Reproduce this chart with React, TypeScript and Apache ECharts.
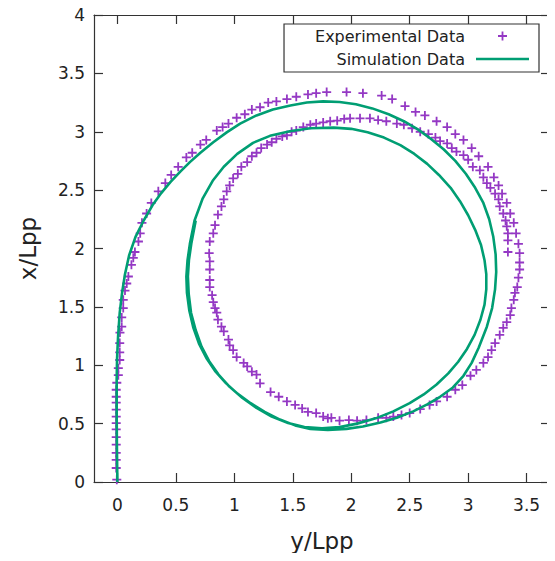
import React, { useEffect, useRef } from "react";
import * as echarts from "echarts";

// ---- data (horizontal = y/Lpp, vertical = x/Lpp) ----
const xTicks = [0, 0.5, 1, 1.5, 2, 2.5, 3, 3.5];

const expStart = [
  [-0.005, 0.02], [-0.01, 0.12], [-0.01, 0.19], [-0.01, 0.25], [-0.01, 0.32], [-0.01, 0.385],
  [-0.01, 0.45], [-0.01, 0.505], [-0.01, 0.56], [-0.01, 0.62], [-0.01, 0.68], [-0.01, 0.73],
  [-0.01, 0.79], [-0.005, 0.85], [0.008, 0.915], [0.008, 0.975], [0.02, 1.045], [0.02, 1.11],
  [0.02, 1.19], [0.022, 1.28], [0.037, 1.33], [0.037, 1.41], [0.05, 1.49], [0.05, 1.56],
  [0.065, 1.64], [0.08, 1.7], [0.094, 1.76], [0.12, 1.86], [0.136, 1.92], [0.15, 1.97],
  [0.18, 2.06], [0.195, 2.13],
];
const expOuterTop = [
  [0.21, 2.22], [0.25, 2.3], [0.29, 2.39], [0.35, 2.49], [0.41, 2.56], [0.46, 2.63],
  [0.52, 2.7], [0.59, 2.78], [0.64, 2.82], [0.71, 2.89], [0.76, 2.93], [0.85, 3.01],
  [0.9, 3.04], [0.95, 3.07], [1.02, 3.12], [1.09, 3.15], [1.15, 3.19], [1.22, 3.21],
  [1.29, 3.25], [1.36, 3.26], [1.45, 3.28], [1.53, 3.3], [1.63, 3.32], [1.7, 3.33],
  [1.79, 3.34], [1.96, 3.34], [2.1, 3.33], [2.26, 3.31], [2.35, 3.28], [2.46, 3.22],
  [2.55, 3.17], [2.63, 3.14], [2.73, 3.09], [2.82, 3.04], [2.89, 2.98], [2.96, 2.93],
  [3.03, 2.86], [3.09, 2.79], [3.17, 2.7], [3.22, 2.61], [3.26, 2.54], [3.29, 2.47],
  [3.33, 2.39], [3.36, 2.3], [3.39, 2.22], [3.41, 2.13], [3.43, 2.04], [3.44, 1.96],
];
const expOuterBottom = [
  [3.44, 1.88], [3.44, 1.82], [3.43, 1.75], [3.42, 1.67], [3.4, 1.62], [3.39, 1.56],
  [3.37, 1.49], [3.36, 1.43], [3.33, 1.37], [3.3, 1.32], [3.27, 1.26], [3.23, 1.19],
  [3.2, 1.13], [3.17, 1.07], [3.13, 1.02], [3.07, 0.96], [3.02, 0.91], [2.95, 0.83],
  [2.89, 0.79], [2.82, 0.73], [2.73, 0.69], [2.67, 0.66], [2.59, 0.625], [2.5, 0.59],
  [2.43, 0.574], [2.36, 0.56], [2.3, 0.55], [2.23, 0.55], [2.13, 0.53], [2.05, 0.525],
  [1.98, 0.53], [1.9, 0.525], [1.83, 0.55], [1.8, 0.545], [1.76, 0.56], [1.7, 0.59],
  [1.63, 0.6], [1.58, 0.63], [1.52, 0.66], [1.45, 0.69], [1.38, 0.73], [1.31, 0.77],
  [1.22, 0.845], [1.19, 0.92], [1.15, 0.945], [1.11, 0.99], [1.08, 1.02], [1.02, 1.07],
  [0.99, 1.13], [0.96, 1.17], [0.95, 1.22], [0.91, 1.29], [0.89, 1.33], [0.86, 1.39],
  [0.85, 1.45], [0.835, 1.49], [0.82, 1.54], [0.81, 1.6], [0.79, 1.67], [0.79, 1.73],
  [0.79, 1.82], [0.79, 1.89], [0.785, 1.96],
];
const expInner = [
  [0.79, 2.06], [0.82, 2.13], [0.835, 2.2], [0.86, 2.29], [0.89, 2.36], [0.91, 2.42],
  [0.935, 2.49], [0.96, 2.54], [0.99, 2.6], [1.03, 2.64], [1.06, 2.7], [1.11, 2.74],
  [1.15, 2.79], [1.19, 2.82], [1.23, 2.86], [1.28, 2.89], [1.32, 2.91], [1.36, 2.94],
  [1.41, 2.96], [1.45, 2.97], [1.49, 3.0], [1.53, 3.01], [1.59, 3.04], [1.65, 3.06],
  [1.7, 3.07], [1.76, 3.08], [1.82, 3.09], [1.88, 3.095], [1.94, 3.11], [1.99, 3.115],
  [2.075, 3.115], [2.16, 3.115], [2.23, 3.1], [2.3, 3.09], [2.39, 3.07], [2.45, 3.06],
  [2.52, 3.03], [2.59, 3.0], [2.66, 2.98], [2.72, 2.95], [2.76, 2.92], [2.82, 2.9],
  [2.86, 2.86], [2.9, 2.83], [2.96, 2.8], [3.0, 2.76], [3.04, 2.7], [3.1, 2.67],
  [3.13, 2.61], [3.16, 2.56], [3.19, 2.52], [3.23, 2.47], [3.26, 2.42], [3.27, 2.36],
  [3.3, 2.3], [3.32, 2.24], [3.33, 2.19], [3.34, 2.13], [3.34, 2.07], [3.34, 1.97],
];

const simStart = [
  [0, 0], [-0.004, 0.3], [-0.006, 0.6], [-0.006, 0.87], [-0.003, 1.05], [0.006, 1.25],
  [0.02, 1.45], [0.04, 1.62], [0.065, 1.78], [0.1, 1.94], [0.155, 2.1], [0.225, 2.24],
  [0.3, 2.37], [0.375, 2.475], [0.455, 2.57], [0.54, 2.66], [0.62, 2.74], [0.71, 2.82],
  [0.82, 2.91], [0.935, 2.995],
];
const simFirstLoop = [
  [1.05, 3.07], [1.19, 3.14], [1.33, 3.19], [1.48, 3.225], [1.62, 3.25], [1.76, 3.26],
  [1.9, 3.255], [2.04, 3.235], [2.18, 3.2], [2.32, 3.15], [2.45, 3.09], [2.57, 3.02],
  [2.68, 2.94], [2.79, 2.85], [2.89, 2.75], [2.98, 2.64], [3.06, 2.52], [3.13, 2.39],
  [3.18, 2.25], [3.215, 2.1], [3.235, 1.95], [3.24, 1.8], [3.23, 1.65], [3.205, 1.49],
  [3.16, 1.33], [3.09, 1.15], [3.03, 1.02], [2.96, 0.91], [2.87, 0.81], [2.76, 0.73],
  [2.65, 0.665], [2.53, 0.605], [2.39, 0.55], [2.25, 0.51], [2.1, 0.475], [1.96, 0.455],
  [1.8, 0.445], [1.65, 0.455], [1.52, 0.485], [1.39, 0.535], [1.26, 0.6], [1.14, 0.675],
  [1.03, 0.755], [0.93, 0.845], [0.84, 0.945], [0.765, 1.055], [0.7, 1.18], [0.65, 1.32],
  [0.615, 1.47], [0.595, 1.62], [0.59, 1.76], [0.6, 1.9], [0.62, 2.04], [0.66, 2.24],
];
const simSecondLoop = [
  [0.73, 2.43], [0.815, 2.58], [0.91, 2.7], [1.025, 2.81], [1.16, 2.905], [1.305, 2.965],
  [1.475, 3.005], [1.65, 3.03], [1.85, 3.035], [2.0, 3.025], [2.14, 2.995], [2.28, 2.95],
  [2.42, 2.885], [2.54, 2.81], [2.65, 2.725], [2.75, 2.63], [2.85, 2.52], [2.93, 2.405],
  [3.0, 2.285], [3.06, 2.16], [3.11, 2.03], [3.14, 1.9], [3.155, 1.78], [3.155, 1.65],
  [3.14, 1.52], [3.105, 1.39], [3.055, 1.26], [2.99, 1.14], [2.915, 1.03], [2.83, 0.93],
  [2.73, 0.835], [2.62, 0.75], [2.5, 0.675], [2.36, 0.605], [2.21, 0.545], [2.05, 0.5],
  [1.9, 0.47], [1.75, 0.46], [1.6, 0.47], [1.46, 0.505], [1.32, 0.56], [1.19, 0.635],
  [1.07, 0.72], [0.96, 0.815], [0.865, 0.92], [0.785, 1.035], [0.72, 1.16], [0.67, 1.3],
  [0.63, 1.45], [0.61, 1.61], [0.603, 1.76], [0.612, 1.9], [0.632, 2.04], [0.67, 2.24],
];

const experimental = [...expStart, ...expOuterTop, ...expOuterBottom, ...expInner];
const simulation = [...simStart, ...simFirstLoop, ...simSecondLoop];

const FONT = "'DejaVu Sans', Verdana, sans-serif";
const PURPLE = "#9438c4";
const GREEN = "#009e73";
const AXIS = "#333";
const PLUS = "path://M4,0H6V4H10V6H6V10H4V6H0V4H4Z";
const BAR = "path://M0,0H100V5H0Z";

export default function App() {
  const ref = useRef<HTMLDivElement>(null);
  useEffect(() => {
    if (!ref.current) return;
    const chart = echarts.init(ref.current, undefined, { renderer: "svg" });
    const axisLine = { show: true, onZero: false, lineStyle: { color: AXIS, width: 1.2 } };
    const tick = { show: true, inside: true, length: 9, lineStyle: { color: AXIS, width: 1.2 } };
    chart.setOption({
      animation: false,
      backgroundColor: "#fff",
      grid: { left: 94, right: 5, top: 15, bottom: 79, containLabel: false },
      legend: {
        orient: "vertical",
        right: 16,
        top: 24,
        align: "right",
        backgroundColor: "#fff",
        borderColor: AXIS,
        borderWidth: 1.2,
        borderRadius: 0,
        padding: [4, 10, 5, 31],
        itemGap: 7,
        itemWidth: 53,
        itemHeight: 9,
        textStyle: { fontFamily: FONT, fontSize: 16, color: "#222", padding: [0, 6, 0, 0] },
        data: [
          { name: "Experimental Data", icon: PLUS, itemStyle: { color: PURPLE } },
          { name: "Simulation Data", icon: BAR, itemStyle: { color: GREEN } },
        ],
      },
      xAxis: [
        {
          type: "value",
          min: -0.2,
          max: 3.7,
          name: "y/Lpp",
          nameLocation: "middle",
          nameGap: 47,
          nameTextStyle: { fontFamily: FONT, fontSize: 23, color: "#222" },
          axisLine,
          axisTick: { ...tick, customValues: xTicks },
          axisLabel: {
            customValues: xTicks,
            fontFamily: FONT,
            fontSize: 17,
            color: "#222",
            margin: 14,
            formatter: (v: number) => String(v),
          },
          splitLine: { show: false },
        },
        {
          type: "value",
          position: "top",
          min: -0.2,
          max: 3.7,
          axisLine,
          axisTick: { ...tick, customValues: xTicks },
          axisLabel: { show: false },
          splitLine: { show: false },
        },
      ],
      yAxis: [
        {
          type: "value",
          min: 0,
          max: 4,
          interval: 0.5,
          name: "x/Lpp",
          nameLocation: "middle",
          nameGap: 55,
          nameRotate: 90,
          nameTextStyle: { fontFamily: FONT, fontSize: 23, color: "#222" },
          axisLine,
          axisTick: tick,
          axisLabel: { fontFamily: FONT, fontSize: 17, color: "#222", margin: 9 },
          splitLine: { show: false },
        },
        {
          type: "value",
          position: "right",
          min: 0,
          max: 4,
          interval: 0.5,
          axisLine,
          axisTick: tick,
          axisLabel: { show: false },
          splitLine: { show: false },
        },
      ],
      series: [
        {
          name: "Experimental Data",
          type: "scatter",
          data: experimental,
          symbol: PLUS,
          symbolSize: 9,
          itemStyle: { color: PURPLE, opacity: 1 },
          z: 2,
        },
        {
          name: "Simulation Data",
          type: "line",
          data: simulation,
          symbol: "none",
          smooth: false,
          lineStyle: { color: GREEN, width: 2.6, join: "round" },
          itemStyle: { color: GREEN },
          z: 3,
        },
      ],
    });
    return () => chart.dispose();
  }, []);
  return <div ref={ref} style={{ width: 555, height: 561, margin: -8 }} />;
}
